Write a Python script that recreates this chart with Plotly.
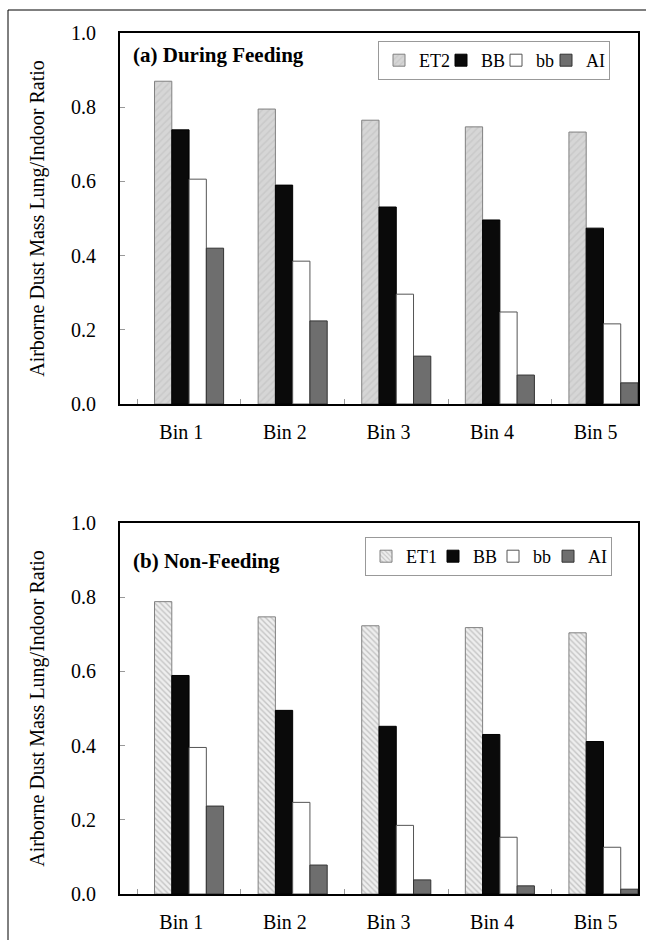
import plotly.graph_objects as go

bins = ["Bin 1", "Bin 2", "Bin 3", "Bin 4", "Bin 5"]

# (a) During Feeding
a_ET2 = [0.870, 0.795, 0.765, 0.747, 0.733]
a_BB = [0.739, 0.590, 0.531, 0.496, 0.474]
a_bb = [0.606, 0.385, 0.296, 0.248, 0.216]
a_AI = [0.420, 0.224, 0.129, 0.078, 0.057]

# (b) Non-Feeding
b_ET1 = [0.788, 0.747, 0.723, 0.718, 0.704]
b_BB = [0.589, 0.495, 0.452, 0.430, 0.411]
b_bb = [0.395, 0.247, 0.185, 0.153, 0.126]
b_AI = [0.237, 0.078, 0.038, 0.022, 0.013]

y_ticks = [0.0, 0.2, 0.4, 0.6, 0.8, 1.0]
y_ticktext = ["0.0", "0.2", "0.4", "0.6", "0.8", "1.0"]
y_title = "Airborne Dust Mass Lung/Indoor Ratio"

FONT = "Liberation Serif"
W, H = 646, 940
xpos = list(range(len(bins)))
slot = 1 / 6

fig = go.Figure()

def add_group(series, xa, ya, legend, widths):
    for k, (name, vals, style) in enumerate(series):
        fig.add_trace(go.Bar(
            x=xpos, y=vals, name=name, xaxis=xa, yaxis=ya, legend=legend,
            width=slot, offset=-0.5 + (k + 2) * slot, legendwidth=widths[k],
            marker=style, hoverinfo="y",
        ))

et2_style = dict(color="#d6d6d6", line=dict(color="#808080", width=1),
                 pattern=dict(shape="/", bgcolor="#d6d6d6", fgcolor="#bcbcbc", size=5, solidity=0.3))
et1_style = dict(color="#e6e6e6", line=dict(color="#808080", width=1),
                 pattern=dict(shape="\\", bgcolor="#eeeeee", fgcolor="#9a9a9a", size=4, solidity=0.35))
bbB_style = dict(color="#0a0a0a", line=dict(color="#000000", width=1))
bbw_style = dict(color="#ffffff", line=dict(color="#555555", width=1))
ai_style = dict(color="#6e6e6e", line=dict(color="#333333", width=1))

add_group([("ET2", a_ET2, et2_style), ("BB", a_BB, bbB_style),
           ("bb", a_bb, bbw_style), ("AI", a_AI, ai_style)], "x", "y", "legend",
          [17, 10, 5, 18])
add_group([("ET1", b_ET1, et1_style), ("BB", b_BB, bbB_style),
           ("bb", b_bb, bbw_style), ("AI", b_AI, ai_style)], "x2", "y2", "legend2",
          [22, 15, 10, 18])

x0, x1 = 120 / W, 638 / W
dom_a = [1 - 404 / H, 1 - 33 / H]
dom_b = [1 - 894 / H, 1 - 523 / H]

xcommon = dict(
    range=[-0.5, 4.5], tickvals=[i - 0.5 + slot for i in xpos], ticktext=bins,
    ticks="inside", ticklen=5, tickcolor="#999999", ticklabelshift=44,
    ticklabelstandoff=9,
    showline=True, linecolor="black", linewidth=2, mirror=True,
    showgrid=False, zeroline=False, fixedrange=True,
    tickfont=dict(family=FONT, size=20, color="black"), domain=[x0, x1],
    automargin=False,
)
ycommon = dict(
    range=[0, 1], tickvals=y_ticks, ticktext=y_ticktext,
    ticks="inside", ticklen=5, tickcolor="#999999",
    showline=True, linecolor="black", linewidth=2, mirror=True,
    showgrid=False, zeroline=False, fixedrange=True,
    tickfont=dict(family=FONT, size=20, color="black"),
    title=dict(text=y_title, font=dict(family=FONT, size=20, color="black"), standoff=21),
    ticklabelstandoff=18, automargin=False,
)

legcommon = dict(
    orientation="h", xanchor="right", yanchor="top",
    bordercolor="#999999", borderwidth=1, bgcolor="white",
    font=dict(family=FONT, size=18, color="black"), itemwidth=30,
    traceorder="normal",
)

fig.update_layout(
    width=W, height=H, margin=dict(l=0, r=0, t=0, b=0),
    paper_bgcolor="white", plot_bgcolor="white",
    barmode="overlay", showlegend=True,
    xaxis=dict(**xcommon, anchor="y"),
    yaxis=dict(**ycommon, domain=dom_a, anchor="x"),
    xaxis2=dict(**xcommon, anchor="y2"),
    yaxis2=dict(**ycommon, domain=dom_b, anchor="x2"),
    legend=dict(**legcommon, x=610 / W, y=1 - 41 / H),
    legend2=dict(**legcommon, x=612 / W, y=1 - 537 / H),
    annotations=[
        dict(text="<b>(a) During Feeding</b>", xref="paper", yref="paper",
             x=131 / W, y=1 - 55 / H, xanchor="left", yanchor="middle", showarrow=False,
             font=dict(family=FONT, size=21, color="black")),
        dict(text="<b>(b) Non-Feeding</b>", xref="paper", yref="paper",
             x=131 / W, y=1 - 561 / H, xanchor="left", yanchor="middle", showarrow=False,
             font=dict(family=FONT, size=21, color="black")),
    ],
    shapes=[
        dict(type="rect", xref="paper", yref="paper",
             x0=8 / W, x1=1.05, y0=-0.05, y1=1 - 10 / H,
             line=dict(color="black", width=1), fillcolor="rgba(0,0,0,0)", layer="below"),
    ],
)

fig.write_html(
    "out.html",
    config={"displayModeBar": False},
    post_script="document.body.style.margin='0';document.body.style.overflow='hidden';",
)
